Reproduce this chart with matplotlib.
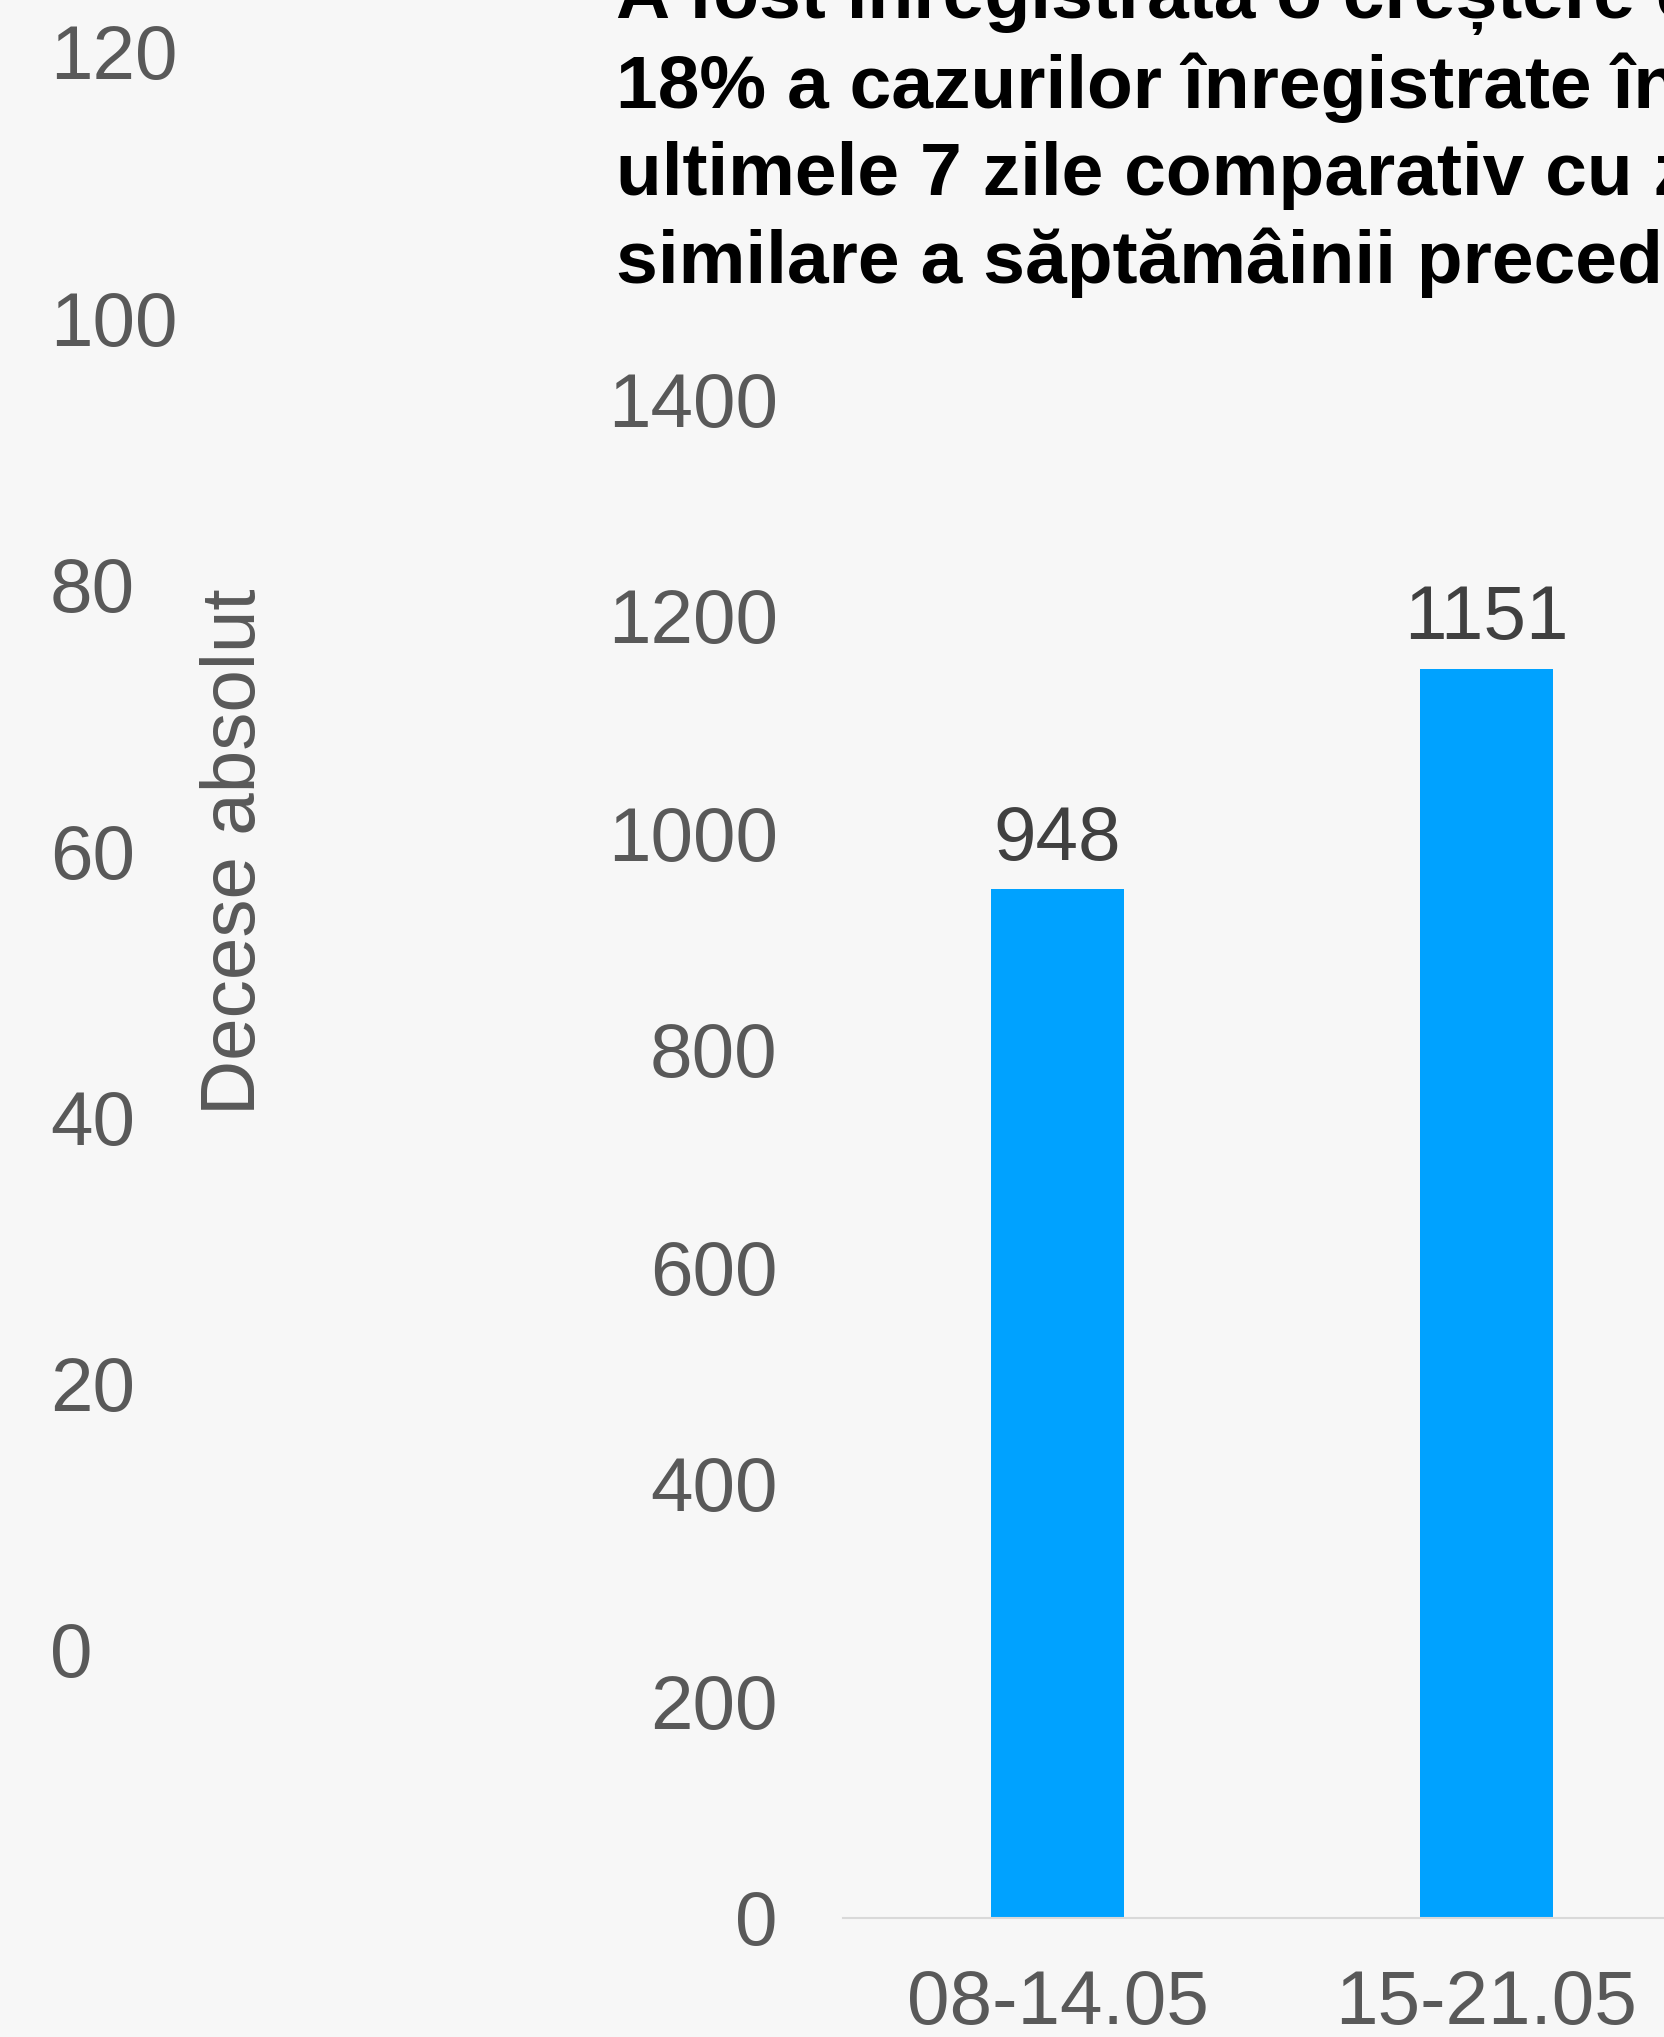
import matplotlib.pyplot as plt

plt.rcParams['font.family'] = ['Liberation Sans', 'DejaVu Sans']

# date
categorii = ['08-14.05', '15-21.05']
cazuri = [948, 1151]
ticks_cazuri = [0, 200, 400, 600, 800, 1000, 1200, 1400]
ticks_decese = [0, 20, 40, 60, 80, 100, 120]
titlu = ('A fost înregistrată o creștere cu\n'
         '18% a cazurilor înregistrate în\n'
         'ultimele 7 zile comparativ cu zilele\n'
         'similare a săptămâinii precedente')

W, H = 1665, 2037
fundal = '#f7f7f7'
gri = '#595959'
albastru = '#00a2ff'

fig = plt.figure(figsize=(W / 100, H / 100), dpi=100, facecolor=fundal)

# axa din stanga (decese), ramasa din graficul vecin
y0, y120 = 1650, 52
ax0 = fig.add_axes([0, 1 - y0 / H, 50 / W, (y0 - y120) / H])
ax0.set_facecolor('none')
ax0.set_ylim(0, 120)
ax0.set_yticks(ticks_decese)
ax0.set_xticks([])
ax0.yaxis.tick_right()
ax0.tick_params(axis='y', length=0, pad=0, labelsize=55, labelcolor=gri)
for s in ax0.spines.values():
    s.set_visible(False)
fig.text(236 / W, 1 - 852 / H, 'Decese absolut', rotation=90, ha='center',
         va='center', fontsize=55, color=gri)

# graficul principal (cazuri)
x_left, y_bot, y_top = 843, 1918, 399
cat = 429
ax = fig.add_axes([x_left / W, 1 - y_bot / H, 1 - x_left / W, (y_bot - y_top) / H])
ax.set_facecolor('none')
pos = list(range(len(categorii)))
ax.bar(pos, cazuri, width=0.31, color=albastru)
ax.set_xlim(-0.5, -0.5 + (W - x_left) / cat)
ax.set_ylim(0, 1400)
ax.set_yticks(ticks_cazuri)
ax.set_xticks(pos)
ax.set_xticklabels(categorii)
ax.tick_params(axis='y', length=0, pad=47, labelsize=55, labelcolor=gri)
ax.tick_params(axis='x', length=0, pad=37, labelsize=55, labelcolor=gri)
for s in ['top', 'right', 'left']:
    ax.spines[s].set_visible(False)
ax.spines['bottom'].set_color('#d9d9d9')
ax.spines['bottom'].set_linewidth(1.5)

for p, v in zip(pos, cazuri):
    ax.annotate(str(v), (p, v), xytext=(0, 10), textcoords='offset points',
                ha='center', va='bottom', fontsize=55, color='#404040')

# titlul, taiat sus si la dreapta ca in captura
fig.text(616 / W, 1 - 283 / H, titlu, ha='left', va='baseline', fontsize=54,
         fontweight='bold', color='black', linespacing=1.32)

fig.savefig('out.png', dpi=100, facecolor=fundal)
